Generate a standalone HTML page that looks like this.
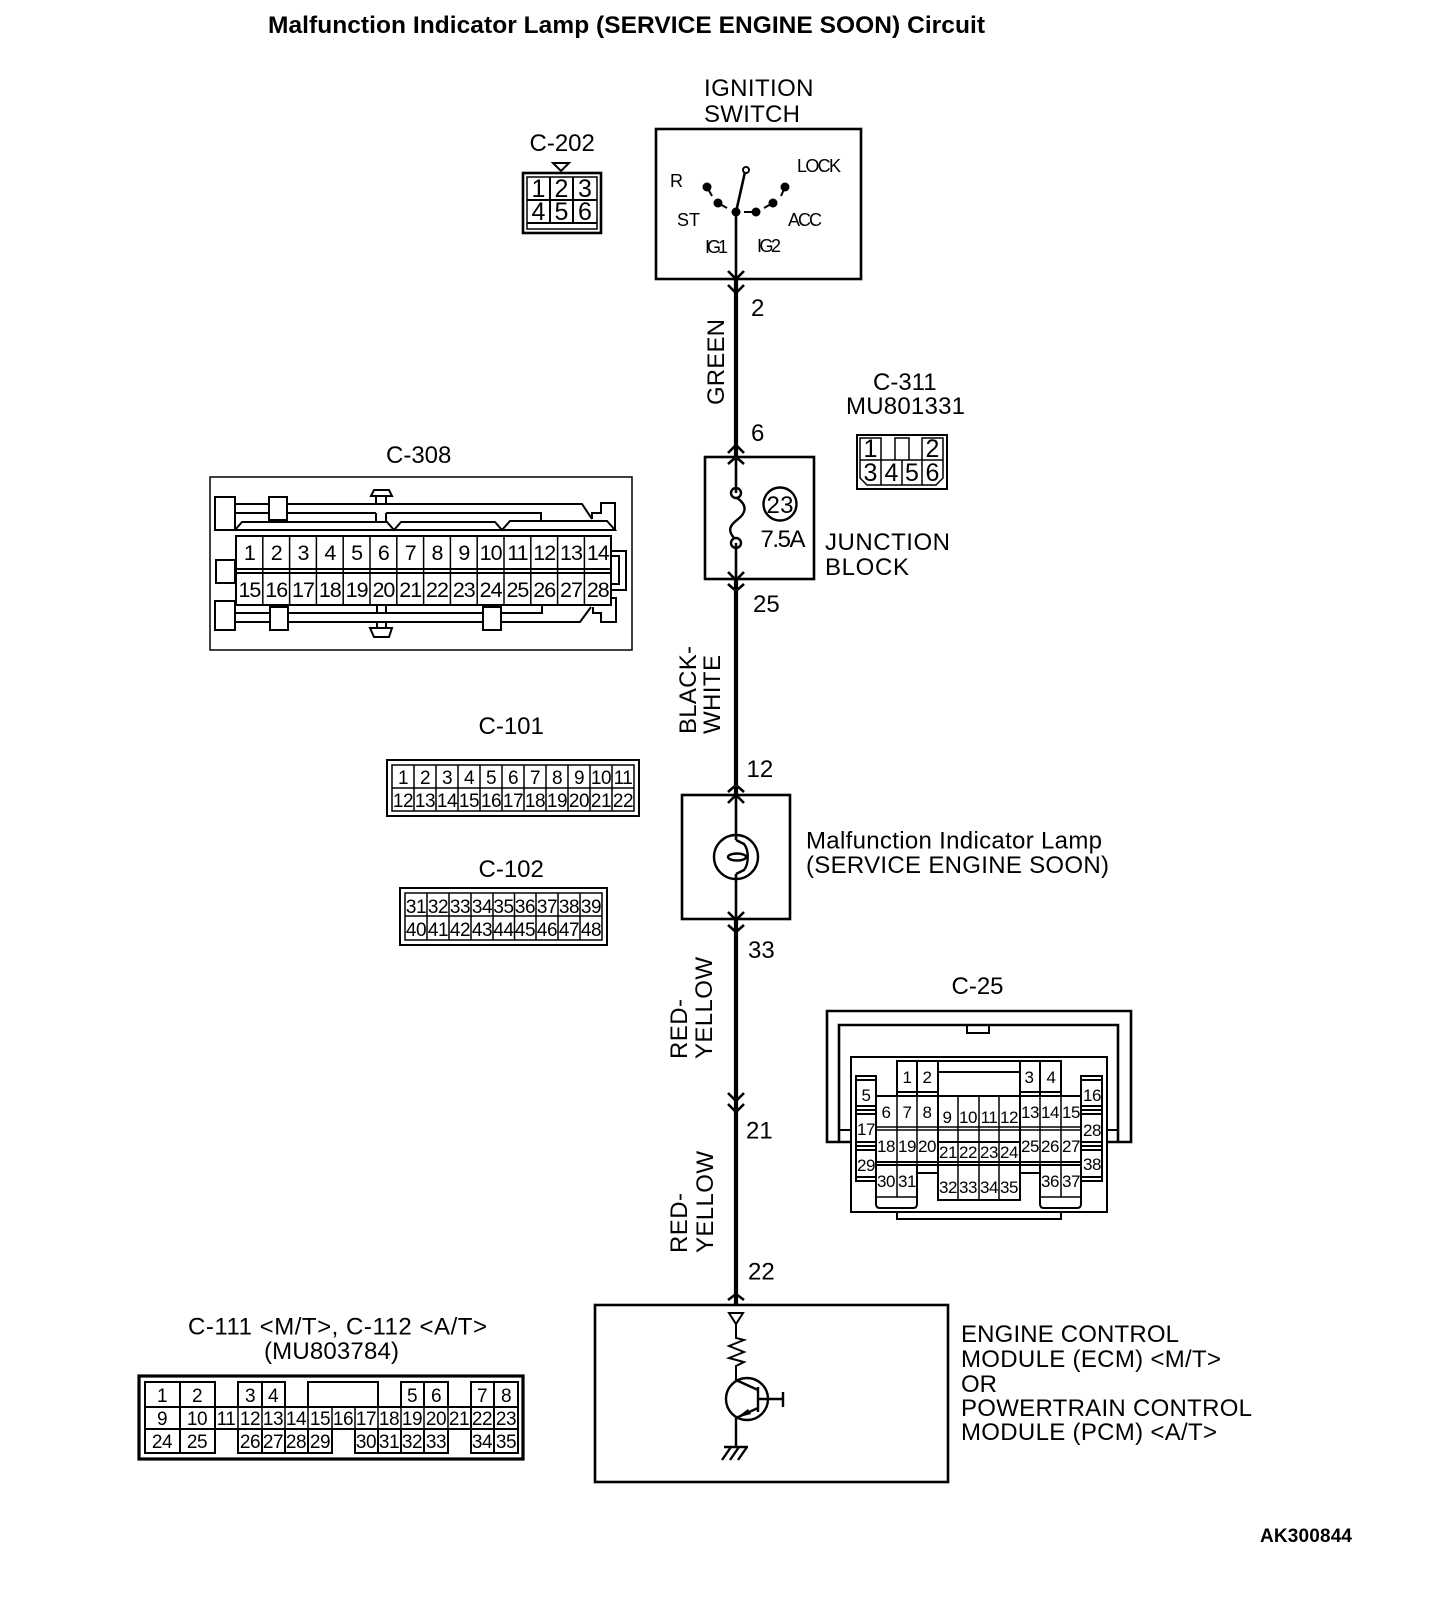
<!DOCTYPE html>
<html><head><meta charset="utf-8"><title>Malfunction Indicator Lamp Circuit</title>
<style>
html,body{margin:0;padding:0;background:#fff}
svg{display:block}
text{font-family:"Liberation Sans",sans-serif;fill:#000;font-size:24px}
.l{fill:none;stroke:#000;stroke-width:2}
.t{fill:none;stroke:#000;stroke-width:1.5}
.b{fill:none;stroke:#000;stroke-width:2.6}
.ch{fill:none;stroke:#000;stroke-width:2.6}
.c text{text-anchor:middle}
</style></head><body>
<svg width="1456" height="1622" viewBox="0 0 1456 1622" xmlns="http://www.w3.org/2000/svg">
<rect width="1456" height="1622" fill="#fff"/>
<text x="268" y="33" style="font-weight:bold;font-size:24.5px" textLength="717">Malfunction Indicator Lamp (SERVICE ENGINE SOON) Circuit</text>
<text x="1260" y="1542" style="font-weight:bold;font-size:19px" textLength="92">AK300844</text>

<!-- main wire -->
<g fill="none" stroke="#000">
<path d="M736 279V457M736 579V795M736 920V1304" stroke-width="4.2"/>
<path d="M736 212V279M736 457V493M736 543V579M736 795V840M736 874V920" stroke-width="2.6"/>
</g>
<path class="ch" d="M728 271L736 279L744 271M728 285L736 293L744 285"/>
<path class="ch" d="M728 453L736 445L744 453M728 464L736 457L744 464"/>
<path class="ch" d="M728 572L736 580L744 572M728 584L736 591L744 584"/>
<path class="ch" d="M728 792L736 785L744 792M728 803L736 795L744 803"/>
<path class="ch" d="M728 912L736 920L744 912M728 925L736 932L744 925"/>
<path class="ch" d="M728 1093L736 1101L744 1093M728 1104L736 1112L744 1104"/>
<path class="ch" d="M728 1300L736 1294L744 1300"/>

<!-- ignition switch -->
<text x="704" y="96" textLength="109.500">IGNITION</text>
<text x="704" y="122" textLength="96">SWITCH</text>
<rect class="b" x="656" y="129" width="205" height="150"/>
<text x="670" y="187" style="font-size:18px">R</text>
<text x="797" y="172" style="font-size:18px" textLength="44">LOCK</text>
<text x="677" y="226" style="font-size:18px">ST</text>
<text x="788" y="226" style="font-size:18px" textLength="34">ACC</text>
<text x="705" y="253" style="font-size:18px" textLength="23">IG1</text>
<text x="757" y="252" style="font-size:18px" textLength="24">IG2</text>
<circle cx="707" cy="187" r="4.500"/><circle cx="718" cy="203" r="4.500"/><circle cx="736" cy="212" r="4.500"/><circle cx="756" cy="212" r="4.500"/><circle cx="773" cy="203" r="4.500"/><circle cx="785" cy="187" r="4.500"/>
<path class="l" d="M707 187L712 196M718 203L727 208M744 212H756M773 203L764 208M785 187L781 196"/>
<path class="b" d="M745 172L736 212"/>
<circle class="l" cx="746" cy="170" r="3"/>
<text x="751" y="316">2</text>
<text x="751" y="441">6</text>
<text transform="translate(724,405) rotate(-90)" textLength="86">GREEN</text>

<!-- C-202 -->
<text x="529.500" y="151">C-202</text>
<path class="l" d="M553 163H569L561 171Z"/>
<rect class="b" x="523" y="173" width="78" height="60"/>
<rect class="t" x="527" y="177" width="70" height="52"/>
<path class="l" d="M527 200H597M527 223H597M550 177V223M573 177V223"/>
<g class="c">
<text style="font-size:25px" x="538.500" y="197">1</text><text style="font-size:25px" x="561.500" y="197">2</text><text style="font-size:25px" x="585" y="197">3</text>
<text style="font-size:25px" x="538.500" y="220">4</text><text style="font-size:25px" x="561.500" y="220">5</text><text style="font-size:25px" x="585" y="220">6</text>
</g>

<!-- C-311 -->
<text x="873" y="390">C-311</text>
<text x="846" y="414" textLength="119">MU801331</text>
<rect class="l" x="857" y="435" width="90" height="54"/>
<path class="t" d="M860 438H881V460H860ZM895 460V438H909V460M922 460V438H943V460M860 460H943M860 460V478L867 485H936L943 478V460M881 460V485M902 460V485M922 460V485"/>
<g class="c">
<text style="font-size:25px" x="870.500" y="457">1</text><text style="font-size:25px" x="932.500" y="457">2</text>
<text style="font-size:25px" x="870.500" y="481">3</text><text style="font-size:25px" x="891.500" y="481">4</text><text style="font-size:25px" x="912" y="481">5</text><text style="font-size:25px" x="932.500" y="481">6</text>
</g>

<!-- junction block -->
<rect class="b" x="705" y="457" width="109" height="122"/>
<circle class="l" cx="736" cy="493" r="5" style="stroke-width:2.4"/>
<circle class="l" cx="736" cy="543" r="5" style="stroke-width:2.4"/>
<path class="l" d="M737 498C749 506 745 514 737 520C729 526 728 531 734 538" style="stroke-width:2.4"/>
<circle class="l" cx="780" cy="504" r="16.500" style="stroke-width:2.4"/>
<text x="766.500" y="513" textLength="27">23</text>
<text x="760.500" y="547" textLength="45">7.5A</text>
<text x="825" y="550" textLength="125">JUNCTION</text>
<text x="825" y="575" textLength="84">BLOCK</text>
<text x="753" y="612">25</text>
<text transform="translate(696,734) rotate(-90)" textLength="88">BLACK-</text>
<text transform="translate(720,734) rotate(-90)" textLength="79">WHITE</text>

<!-- C-308 -->
<text x="386" y="463">C-308</text>
<rect class="t" x="210" y="477" width="422" height="173"/>
<rect class="l" x="215" y="497" width="20" height="33"/>
<path class="l" d="M235 504H269M287 504H582L592 519M235 513H269M287 513H376M386 513H541V520M376 513V521M386 513V521M376 496V505M386 496V505"/>
<path class="l" d="M235 530H615L607 521H510L502 530L495 522H401L394 530L387 522H242L235 530"/>
<path class="l" d="M592 519V513H601V503H615V530"/>
<rect class="l" x="269" y="497" width="18" height="23" style="fill:#fff"/>
<path class="l" d="M371 496L374 490H389L392 496Z"/>
<rect class="l" x="216" y="560" width="19" height="23"/>
<rect class="l" x="215" y="601" width="20" height="29"/>
<path class="l" d="M235 613H270M288 613H483M501 613H542V606M235 622H270M288 622H483M501 622H580L591 607M377 606V613M386 606V613"/>
<path class="l" d="M593 607V613H601V622H616V598H611"/>
<rect class="l" x="270" y="607" width="18" height="23" style="fill:#fff"/>
<rect class="l" x="483" y="607" width="18" height="23" style="fill:#fff"/>
<path class="l" d="M370 628H392L389 637H374ZM377 622V628M386 622V628"/>
<path class="l" d="M611 551H626V590H611M611 556H619V584H611"/>
<rect class="l" x="236" y="536" width="375" height="69"/>
<path class="l" d="M236 569H611M236 573H611"/>
<path class="t" d="M262.800 536V605M289.600 536V605M316.400 536V605M343.200 536V605M370 536V605M396.800 536V605M423.600 536V605M450.400 536V605M477.200 536V605M504 536V605M530.800 536V605M557.600 536V605M584.400 536V605"/>
<g class="c" style="letter-spacing:-1px">
<text style="font-size:21.5px" x="249.400" y="560">1</text><text style="font-size:21.5px" x="276.200" y="560">2</text><text style="font-size:21.5px" x="303" y="560">3</text><text style="font-size:21.5px" x="329.800" y="560">4</text><text style="font-size:21.5px" x="356.600" y="560">5</text><text style="font-size:21.5px" x="383.400" y="560">6</text><text style="font-size:21.5px" x="410.200" y="560">7</text><text style="font-size:21.5px" x="437" y="560">8</text><text style="font-size:21.5px" x="463.800" y="560">9</text><text style="font-size:21.5px" x="490.600" y="560">10</text><text style="font-size:21.5px" x="517.400" y="560">11</text><text style="font-size:21.5px" x="544.200" y="560">12</text><text style="font-size:21.5px" x="571" y="560">13</text><text style="font-size:21.5px" x="597.800" y="560">14</text>
<text style="font-size:21.5px" x="249.400" y="597">15</text><text style="font-size:21.5px" x="276.200" y="597">16</text><text style="font-size:21.5px" x="303" y="597">17</text><text style="font-size:21.5px" x="329.800" y="597">18</text><text style="font-size:21.5px" x="356.600" y="597">19</text><text style="font-size:21.5px" x="383.400" y="597">20</text><text style="font-size:21.5px" x="410.200" y="597">21</text><text style="font-size:21.5px" x="437" y="597">22</text><text style="font-size:21.5px" x="463.800" y="597">23</text><text style="font-size:21.5px" x="490.600" y="597">24</text><text style="font-size:21.5px" x="517.400" y="597">25</text><text style="font-size:21.5px" x="544.200" y="597">26</text><text style="font-size:21.5px" x="571" y="597">27</text><text style="font-size:21.5px" x="597.800" y="597">28</text>
</g>

<!-- C-101 -->
<text x="478.500" y="734">C-101</text>
<rect class="l" x="387" y="760" width="252" height="56"/>
<rect class="t" x="392" y="765" width="242" height="46"/>
<path class="t" d="M392 788H634M414 765V811M436 765V811M458 765V811M480 765V811M502 765V811M524 765V811M546 765V811M568 765V811M590 765V811M612 765V811"/>
<g class="c" style="letter-spacing:-.5px">
<text style="font-size:19px" x="403" y="784">1</text><text style="font-size:19px" x="425" y="784">2</text><text style="font-size:19px" x="447" y="784">3</text><text style="font-size:19px" x="469" y="784">4</text><text style="font-size:19px" x="491" y="784">5</text><text style="font-size:19px" x="513" y="784">6</text><text style="font-size:19px" x="535" y="784">7</text><text style="font-size:19px" x="557" y="784">8</text><text style="font-size:19px" x="579" y="784">9</text><text style="font-size:19px" x="601" y="784">10</text><text style="font-size:19px" x="623" y="784">11</text>
<text style="font-size:19px" x="403" y="807">12</text><text style="font-size:19px" x="425" y="807">13</text><text style="font-size:19px" x="447" y="807">14</text><text style="font-size:19px" x="469" y="807">15</text><text style="font-size:19px" x="491" y="807">16</text><text style="font-size:19px" x="513" y="807">17</text><text style="font-size:19px" x="535" y="807">18</text><text style="font-size:19px" x="557" y="807">19</text><text style="font-size:19px" x="579" y="807">20</text><text style="font-size:19px" x="601" y="807">21</text><text style="font-size:19px" x="623" y="807">22</text>
</g>

<!-- C-102 -->
<text x="478.500" y="877">C-102</text>
<rect class="l" x="400" y="888" width="207" height="57"/>
<rect class="t" x="405" y="893" width="197" height="47"/>
<path class="t" d="M405 916H602M427 893V940M449 893V940M471 893V940M493 893V940M514.500 893V940M536 893V940M558 893V940M580 893V940"/>
<g class="c" style="letter-spacing:-.5px">
<text style="font-size:19px" x="416" y="913">31</text><text style="font-size:19px" x="438" y="913">32</text><text style="font-size:19px" x="460" y="913">33</text><text style="font-size:19px" x="482" y="913">34</text><text style="font-size:19px" x="503.500" y="913">35</text><text style="font-size:19px" x="525" y="913">36</text><text style="font-size:19px" x="547" y="913">37</text><text style="font-size:19px" x="569" y="913">38</text><text style="font-size:19px" x="591" y="913">39</text>
<text style="font-size:19px" x="416" y="936">40</text><text style="font-size:19px" x="438" y="936">41</text><text style="font-size:19px" x="460" y="936">42</text><text style="font-size:19px" x="482" y="936">43</text><text style="font-size:19px" x="503.500" y="936">44</text><text style="font-size:19px" x="525" y="936">45</text><text style="font-size:19px" x="547" y="936">46</text><text style="font-size:19px" x="569" y="936">47</text><text style="font-size:19px" x="591" y="936">48</text>
</g>

<!-- lamp -->
<text x="746.500" y="777">12</text>
<rect class="b" x="682" y="795" width="108" height="124"/>
<circle class="l" cx="736" cy="857" r="22" style="stroke-width:2.4"/>
<path class="l" d="M736 840L744 844C749 850 749 864 744 870L736 874" style="stroke-width:2.4"/>
<ellipse class="l" cx="737" cy="857" rx="9" ry="3.500" style="stroke-width:2.4"/>
<text x="806" y="848.500" textLength="296">Malfunction Indicator Lamp</text>
<text x="806" y="873" textLength="303">(SERVICE ENGINE SOON)</text>
<text x="748" y="958">33</text>
<text transform="translate(687,1059) rotate(-90)" textLength="60">RED-</text>
<text transform="translate(712,1059) rotate(-90)" textLength="102">YELLOW</text>
<text x="746" y="1138.500">21</text>
<text transform="translate(687,1253) rotate(-90)" textLength="60">RED-</text>
<text transform="translate(713,1253) rotate(-90)" textLength="102">YELLOW</text>
<text x="748" y="1279.500">22</text>

<!-- C-25 -->
<text x="951.500" y="994">C-25</text>
<path class="b" d="M851 1142H827V1011H1131V1142H1107"/>
<path class="b" d="M839 1142V1025H1118V1142"/>
<rect class="l" x="967" y="1025" width="22" height="8"/>
<path class="l" d="M839 1130H851M1107 1130H1118"/>
<rect class="l" x="851" y="1057" width="256" height="155" style="fill:#fff"/>
<path class="l" d="M897 1212V1219H1061V1212"/>
<path class="l" d="M897 1095V1061H938V1095M917 1061V1095M1020 1095V1061H1061V1095M1040 1061V1095"/>
<path class="l" d="M938 1061H1020M938 1072H1020"/>
<path class="l" d="M897 1092H938M1020 1092H1061"/>
<path class="l" d="M876 1096H1081M876 1096V1197M1081 1096V1197M876 1162H1081M876 1165H1081"/>
<path class="l" d="M938 1142H1020M938 1096V1200H1020V1096"/>
<path class="l" d="M938 1173H917M1020 1173H1040M917 1165V1173M1040 1165V1173"/>
<path class="l" d="M876 1197V1204Q876 1208 880 1208H913Q917 1208 917 1204V1165M1040 1165V1204Q1040 1208 1044 1208H1077Q1081 1208 1081 1204V1165"/>
<path class="t" d="M876 1197H917M1040 1197H1081M876 1127H1081M876 1130H1081"/>
<rect class="l" x="856" y="1076" width="20" height="105" style="fill:#fff"/>
<rect class="l" x="1081" y="1076" width="21" height="105" style="fill:#fff"/>
<path class="l" d="M856 1080H876M856 1106H876M856 1110H876M856 1114H876M856 1142H876M856 1146H876M856 1150H876M856 1177H876M1081 1080H1102M1081 1106H1102M1081 1110H1102M1081 1114H1102M1081 1142H1102M1081 1146H1102M1081 1150H1102M1081 1177H1102"/>
<path class="t" d="M897 1096V1197M917 1096V1165M958 1096V1200M979 1096V1200M999 1096V1200M1040 1096V1165M1061 1096V1197"/>
<g class="c" style="letter-spacing:-.5px">
<text style="font-size:17px" x="907" y="1083">1</text><text style="font-size:17px" x="927" y="1083">2</text><text style="font-size:17px" x="1029" y="1083">3</text><text style="font-size:17px" x="1051" y="1083">4</text>
<text style="font-size:17px" x="866" y="1101">5</text><text style="font-size:17px" x="866" y="1135">17</text><text style="font-size:17px" x="866" y="1171">29</text>
<text style="font-size:17px" x="1092" y="1101">16</text><text style="font-size:17px" x="1092" y="1136">28</text><text style="font-size:17px" x="1092" y="1170">38</text>
<text style="font-size:17px" x="886" y="1118">6</text><text style="font-size:17px" x="907" y="1118">7</text><text style="font-size:17px" x="927" y="1118">8</text>
<text style="font-size:17px" x="947" y="1123">9</text><text style="font-size:17px" x="968" y="1123">10</text><text style="font-size:17px" x="989" y="1123">11</text><text style="font-size:17px" x="1009" y="1123">12</text>
<text style="font-size:17px" x="1030" y="1118">13</text><text style="font-size:17px" x="1050" y="1118">14</text><text style="font-size:17px" x="1071" y="1118">15</text>
<text style="font-size:17px" x="886" y="1152">18</text><text style="font-size:17px" x="907" y="1152">19</text><text style="font-size:17px" x="927" y="1152">20</text>
<text style="font-size:17px" x="948" y="1158">21</text><text style="font-size:17px" x="968" y="1158">22</text><text style="font-size:17px" x="989" y="1158">23</text><text style="font-size:17px" x="1009" y="1158">24</text>
<text style="font-size:17px" x="1030" y="1152">25</text><text style="font-size:17px" x="1050" y="1152">26</text><text style="font-size:17px" x="1071" y="1152">27</text>
<text style="font-size:17px" x="886" y="1187">30</text><text style="font-size:17px" x="907" y="1187">31</text>
<text style="font-size:17px" x="948" y="1193">32</text><text style="font-size:17px" x="968" y="1193">33</text><text style="font-size:17px" x="989" y="1193">34</text><text style="font-size:17px" x="1009" y="1193">35</text>
<text style="font-size:17px" x="1050" y="1187">36</text><text style="font-size:17px" x="1071" y="1187">37</text>
</g>

<!-- ECM -->
<rect class="b" x="595" y="1305" width="353" height="177"/>
<path class="l" d="M729 1313H743L736 1324ZM736 1324V1338L744 1340L729 1346L744 1352L729 1358L744 1362L736 1366V1380"/>
<circle class="l" cx="747" cy="1399" r="21" style="stroke-width:2.4"/>
<path class="l" d="M736 1380L758 1390M736 1418L758 1408M736 1418V1447M724 1447H748M758 1387V1412M758 1399H783M731 1447L722 1460M739 1447L730 1460M747 1447L738 1460" style="stroke-width:2.4"/>
<path d="M783 1392V1407" stroke="#000" stroke-width="2.4"/>
<path d="M736 1418L748 1409L751 1414Z"/>
<text x="961" y="1342" textLength="218">ENGINE CONTROL</text>
<text x="961" y="1367" textLength="260">MODULE (ECM) &lt;M/T&gt;</text>
<text x="961" y="1392" textLength="36">OR</text>
<text x="961" y="1416" textLength="291">POWERTRAIN CONTROL</text>
<text x="961" y="1440" textLength="256">MODULE (PCM) &lt;A/T&gt;</text>

<!-- C-111 -->
<text x="188" y="1334.500" textLength="299">C-111 &lt;M/T&gt;, C-112 &lt;A/T&gt;</text>
<text x="264" y="1359" textLength="135">(MU803784)</text>
<rect x="139" y="1376" width="384" height="83" style="fill:none;stroke:#000;stroke-width:3.2"/>
<path class="l" d="M145 1407H518M145 1429H518M145 1407V1453H215V1407M180 1382V1453M145 1407V1382H215V1407M238 1407V1382H285V1407M262 1382V1407M308 1407V1382H378V1407M401 1407V1382H448V1407M424 1382V1407M471 1407V1382H518V1453H471V1407M494 1382V1453"/>
<path class="l" d="M238 1429V1453H332V1429M262 1429V1453M285 1429V1453M308 1429V1453M355 1429V1453H448V1429M378 1429V1453M401 1429V1453M424 1429V1453"/>
<path class="t" d="M215 1407V1429M238 1407V1429M262 1407V1429M285 1407V1429M308 1407V1429M332 1407V1429M355 1407V1429M378 1407V1429M401 1407V1429M424 1407V1429M448 1407V1429M471 1407V1429"/>
<g class="c" style="letter-spacing:-.5px">
<text style="font-size:19px" x="162" y="1402">1</text><text style="font-size:19px" x="197" y="1402">2</text><text style="font-size:19px" x="250" y="1402">3</text><text style="font-size:19px" x="273" y="1402">4</text><text style="font-size:19px" x="412" y="1402">5</text><text style="font-size:19px" x="436" y="1402">6</text><text style="font-size:19px" x="482" y="1402">7</text><text style="font-size:19px" x="506" y="1402">8</text>
<text style="font-size:19px" x="162" y="1425">9</text><text style="font-size:19px" x="197" y="1425">10</text><text style="font-size:19px" x="226" y="1425">11</text><text style="font-size:19px" x="250" y="1425">12</text><text style="font-size:19px" x="273" y="1425">13</text><text style="font-size:19px" x="296" y="1425">14</text><text style="font-size:19px" x="320" y="1425">15</text><text style="font-size:19px" x="343" y="1425">16</text><text style="font-size:19px" x="366" y="1425">17</text><text style="font-size:19px" x="389" y="1425">18</text><text style="font-size:19px" x="412" y="1425">19</text><text style="font-size:19px" x="436" y="1425">20</text><text style="font-size:19px" x="459" y="1425">21</text><text style="font-size:19px" x="482" y="1425">22</text><text style="font-size:19px" x="506" y="1425">23</text>
<text style="font-size:19px" x="162" y="1448">24</text><text style="font-size:19px" x="197" y="1448">25</text><text style="font-size:19px" x="250" y="1448">26</text><text style="font-size:19px" x="273" y="1448">27</text><text style="font-size:19px" x="296" y="1448">28</text><text style="font-size:19px" x="320" y="1448">29</text><text style="font-size:19px" x="366" y="1448">30</text><text style="font-size:19px" x="389" y="1448">31</text><text style="font-size:19px" x="412" y="1448">32</text><text style="font-size:19px" x="436" y="1448">33</text><text style="font-size:19px" x="482" y="1448">34</text><text style="font-size:19px" x="506" y="1448">35</text>
</g>
</svg>
</body></html>
